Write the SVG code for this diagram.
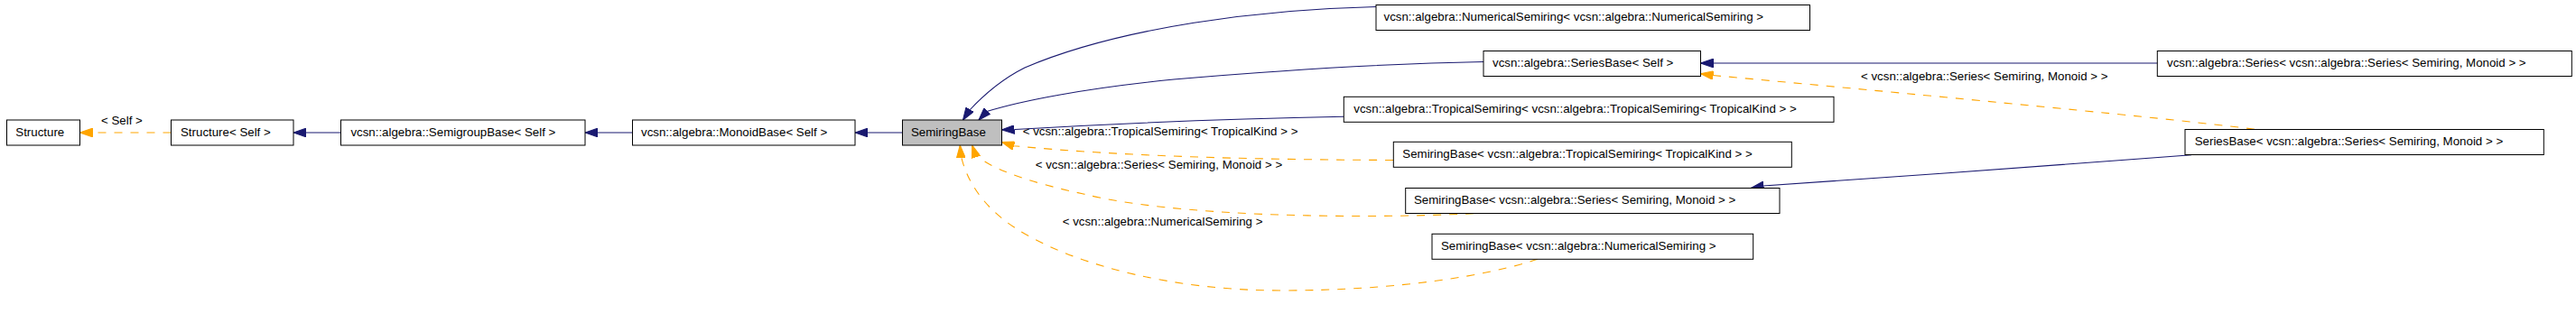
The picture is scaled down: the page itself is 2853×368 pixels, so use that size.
<svg xmlns="http://www.w3.org/2000/svg" width="2853" height="368" viewBox="0 0 2853 368">
<style>
  .box { fill: #ffffff; stroke: #000000; stroke-width: 1; }
  .cur { fill: #bfbfbf; stroke: #000000; stroke-width: 1; }
  text { font-family: "Liberation Sans", Arial, sans-serif; font-size: 13.3px; fill: #000000; }
  .inh { fill: none; stroke: #191970; stroke-width: 1.1; }
  .tpl { fill: none; stroke: #ffa500; stroke-width: 1.1; stroke-dasharray: 9 9; }
  .inh-e { marker-end: url(#navyArrow); }
  .tpl-e { marker-end: url(#orangeArrow); }
</style>
<defs>
  <marker id="navyArrow" markerUnits="userSpaceOnUse" markerWidth="14" markerHeight="10" viewBox="0 0 13 9" refX="13" refY="4.5" orient="auto">
    <path d="M0,0 L13,4.5 L0,9 z" fill="#191970" stroke="#191970" stroke-width="1" stroke-dasharray="none"/>
  </marker>
  <marker id="orangeArrow" markerUnits="userSpaceOnUse" markerWidth="14" markerHeight="10" viewBox="0 0 13 9" refX="13" refY="4.5" orient="auto">
    <path d="M0,0 L13,4.5 L0,9 z" fill="#ffa500" stroke="#ffa500" stroke-width="1" stroke-dasharray="none"/>
  </marker>
</defs>
<rect width="2853" height="368" fill="#ffffff"/>

<g id="connectors">
  <g id="e1"><path class="tpl tpl-e" d="M189.5,147 L101.5,147 L88.5,147"/><text x="112" y="138.3">&lt; Self &gt;</text></g>
  <path id="e2" class="inh inh-e" d="M377.5,147 L338,147 L325,147"/>
  <path id="e3" class="inh inh-e" d="M700.5,147 L661,147 L648,147"/>
  <path id="e4" class="inh inh-e" d="M999.5,147 L960,147 L947,147"/>
  <path id="e5" class="inh inh-e" d="M1524,7.5 C1400,10 1240,30 1135,75 C1105,90 1085,110 1073,123 L1066.5,133"/>
  <path id="e6" class="inh inh-e" d="M1643,68.5 C1560,70 1450,75 1300,88 C1200,98 1130,112 1093,123.5 L1084,133"/>
  <g id="e7"><path class="inh inh-e" d="M1488,129.3 C1400,131 1250,136 1124,143.5 L1109.5,143.8"/><text x="1132.7" y="150">&lt; vcsn::algebra::TropicalSemiring&lt; TropicalKind &gt; &gt;</text></g>
  <path id="e8" class="tpl tpl-e" d="M1543,177.5 C1400,177 1250,174 1123,161.7 L1109.5,157.5"/>
  <g id="e9"><path class="tpl tpl-e" d="M1632,236.7 C1500,243 1300,240 1200,215 C1130,200 1095,185 1080,171 L1076.7,161"/><text x="1146.7" y="186.7">&lt; vcsn::algebra::Series&lt; Semiring, Monoid &gt; &gt;</text></g>
  <g id="e10"><path class="tpl tpl-e" d="M1703,287.3 C1650,305 1550,322 1420,322 C1300,322 1200,295 1140,262 C1090,235 1070,200 1064,171 L1063.3,161"/><text x="1176.7" y="250">&lt; vcsn::algebra::NumericalSemiring &gt;</text></g>
  <path id="e11" class="inh inh-e" d="M2389.5,70 L1897,70 L1883.5,70"/>
  <g id="e12"><path class="tpl tpl-e" d="M2497,143.3 C2420,133 2150,107 1897,83.5 L1883.5,81.7"/><text x="2061" y="89.3">&lt; vcsn::algebra::Series&lt; Semiring, Monoid &gt; &gt;</text></g>
  <path id="e13" class="inh inh-e" d="M2427,171.7 C2300,182 2100,196 1953,206 L1939.5,208.3"/>
</g>

<g id="n_structure"><rect class="box" x="7.5" y="133" width="81" height="28"/><text x="17.3" y="150.5">Structure</text></g>
<g id="n_structure_self"><rect class="box" x="189.5" y="133" width="135.5" height="28"/><text x="200" y="150.5">Structure&lt; Self &gt;</text></g>
<g id="n_semigroupbase"><rect class="box" x="377.5" y="133" width="270.5" height="28"/><text x="388.4" y="150.5">vcsn::algebra::SemigroupBase&lt; Self &gt;</text></g>
<g id="n_monoidbase"><rect class="box" x="700.5" y="133" width="246.5" height="28"/><text x="710" y="150.5">vcsn::algebra::MonoidBase&lt; Self &gt;</text></g>
<g id="n_semiringbase"><rect class="cur" x="999.5" y="133" width="110" height="28"/><text x="1009" y="150.5">SemiringBase</text></g>
<g id="n_numerical"><rect class="box" x="1524" y="5.5" width="480.5" height="28"/><text x="1532.5" y="23">vcsn::algebra::NumericalSemiring&lt; vcsn::algebra::NumericalSemiring &gt;</text></g>
<g id="n_seriesbase_self"><rect class="box" x="1643" y="56.5" width="240.5" height="28"/><text x="1653" y="74">vcsn::algebra::SeriesBase&lt; Self &gt;</text></g>
<g id="n_tropical"><rect class="box" x="1488.3" y="107.3" width="542.7" height="28"/><text x="1499.3" y="125">vcsn::algebra::TropicalSemiring&lt; vcsn::algebra::TropicalSemiring&lt; TropicalKind &gt; &gt;</text></g>
<g id="n_semiringbase_tropical"><rect class="box" x="1543.3" y="157.3" width="441" height="28"/><text x="1553.3" y="175">SemiringBase&lt; vcsn::algebra::TropicalSemiring&lt; TropicalKind &gt; &gt;</text></g>
<g id="n_semiringbase_series"><rect class="box" x="1556.7" y="208.5" width="414.3" height="28"/><text x="1566" y="226">SemiringBase&lt; vcsn::algebra::Series&lt; Semiring, Monoid &gt; &gt;</text></g>
<g id="n_semiringbase_numerical"><rect class="box" x="1586" y="259.3" width="355.7" height="28"/><text x="1596" y="277">SemiringBase&lt; vcsn::algebra::NumericalSemiring &gt;</text></g>
<g id="n_series_series"><rect class="box" x="2389.3" y="56.5" width="459" height="28"/><text x="2400" y="74">vcsn::algebra::Series&lt; vcsn::algebra::Series&lt; Semiring, Monoid &gt; &gt;</text></g>
<g id="n_seriesbase_series"><rect class="box" x="2420" y="143.5" width="397.3" height="28"/><text x="2430.7" y="161">SeriesBase&lt; vcsn::algebra::Series&lt; Semiring, Monoid &gt; &gt;</text></g>
</svg>
